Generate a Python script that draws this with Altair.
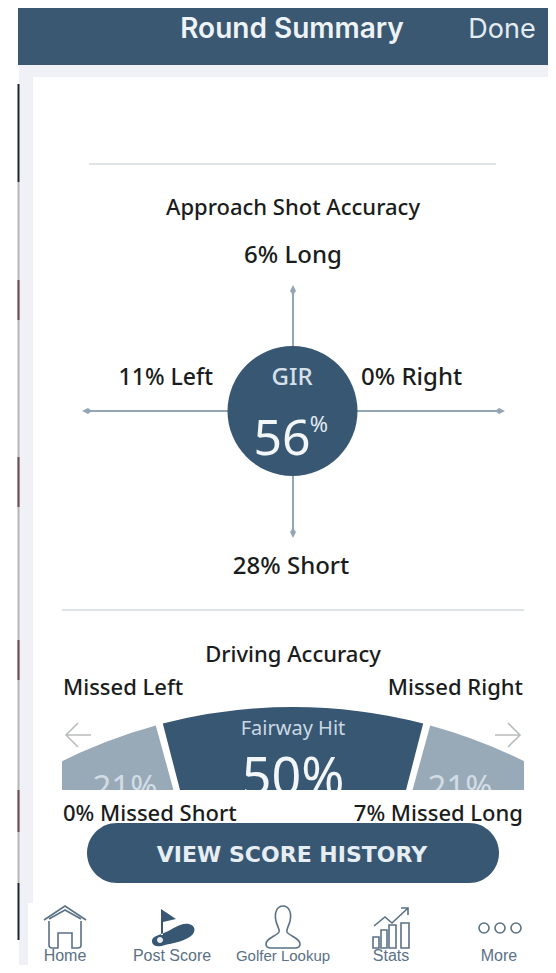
import math
import altair as alt
import pandas as pd

# ---- values ----
gir_pct = 56
miss_labels = ["6% Long", "11% Left", "0% Right", "28% Short"]
driving_segments = ["Missed Left", "Fairway Hit", "Missed Right"]
driving_values = [21, 50, 21]
driving_other = ["0% Missed Short", "7% Missed Long"]
tab_labels = ["Home", "Post Score", "Golfer Lookup", "Stats", "More"]

# ---- layout: the chart uses page pixels as its data space ----
W, H = 540, 957
sx = alt.Scale(domain=[8, 548], nice=False, zero=False)
sy = alt.Scale(domain=[8, 965], nice=False, zero=False, reverse=True)
X = lambda f="x": alt.X(f"{f}:Q", scale=sx, axis=None)
Y = lambda f="y": alt.Y(f"{f}:Q", scale=sy, axis=None)

NAVY = "#375773"
HEAD = "#3b5873"
LINE = "#93a6b6"
GREYSEG = "#98a9b7"
INK = "#1a1d20"
TAB = "#5a7186"
BODY = "Noto Sans"


def rects(rows, color, **kw):
    df = pd.DataFrame(rows, columns=["x", "x2", "y", "y2"])
    return alt.Chart(df).mark_rect(color=color, **kw).encode(
        x=X(), x2="x2:Q", y=Y(), y2="y2:Q")


def rules(rows, color, width):
    df = pd.DataFrame(rows, columns=["x", "x2", "y", "y2"])
    return alt.Chart(df).mark_rule(color=color, strokeWidth=width).encode(
        x=X(), x2="x2:Q", y=Y(), y2="y2:Q")


def texts(rows, size, color=INK, weight=400, align="center", font=BODY):
    df = pd.DataFrame(rows, columns=["t", "x", "y"])
    return alt.Chart(df).mark_text(
        fontSize=size, color=color, fontWeight=weight, align=align,
        baseline="alphabetic", font=font).encode(x=X(), y=Y(), text="t:N")


def glyphs(rows, fill=None, stroke=None, width=1.6):
    # size=4 makes the path's units equal to pixels
    df = pd.DataFrame(rows, columns=["p", "x", "y"])
    kw = {"fill": fill or "transparent", "filled": True, "opacity": 1}
    if stroke:
        kw.update(stroke=stroke, strokeWidth=width)
    return alt.Chart(df).mark_point(size=4, **kw).encode(
        x=X(), y=Y(), shape=alt.Shape("p:N", scale=None, legend=None))


# ---- driving accuracy sectors ----
CX, CY, R, R0 = 293, 1227, 520, 425
sector_spans = [(-29.5, -15.3), (-14.5, 14.5), (15.3, 29.5)]
sector_colors = [GREYSEG, NAVY, GREYSEG]
sectors = []
for (a, b), c in zip(sector_spans, sector_colors):
    df = pd.DataFrame({"x": [CX], "y": [CY], "t0": [math.radians(a)], "t1": [math.radians(b)]})
    sectors.append(
        alt.Chart(df).mark_arc(radius=R, radius2=R0, color=c).encode(
            x=X(), y=Y(),
            theta=alt.Theta("t0:Q", scale=None),
            theta2="t1:Q"))

# ---- icon paths ----
HOME = ("M-21,-7 L0,-21 L21,-7 M-16,-8 L0,-17 L16,-8 M-16,-6 L-16,18 Q-16,21 -13,21 L-7,21 L-7,6 "
        "L7,6 L7,21 L13,21 Q16,21 16,18 L16,-6")
FLAG = ("M-12,-18 L-12,8 L-10,8 L-10,-5 L3,-8 L-12,-18 Z "
        "M-21,15 C-22,9 -13,8 -7,5 C0,2 8,-5 16,-3 C24,-1 23,7 15,11 "
        "C8,15 0,16 -8,18 C-14,20 -20,20 -21,15 Z")
PERSON = ("M-7,-6 C-9,-14 -6,-21 0,-21 C6,-21 9,-14 7,-6 C6,-1 3,2 4,5 C6,9 17,11 17,17 "
          "C17,20 15,21 12,21 L-12,21 C-15,21 -17,20 -17,17 C-17,11 -6,9 -4,5 C-3,2 -6,-1 -7,-6 Z")
STATS = ("M-18,21 L-18,10 L-12,10 L-12,21 Z M-10,21 L-10,3 L-4,3 L-4,21 Z "
         "M-2,21 L-2,-2 L5,-2 L5,21 Z M10,21 L10,-4 L18,-4 L18,21 Z "
         "M-17,-1 L-6,-10 L1,-4 L17,-19 M10,-19 L17,-19 L17,-12")
RING = "M-5,0 A5,5 0 1,0 5,0 A5,5 0 1,0 -5,0 Z"
HOLE = "M-3,0 A3,3 0 1,0 3,0 A3,3 0 1,0 -3,0 Z"
TIP_U = "M0,-6 L3,0 L0,4 L-3,0 Z"
TIP_D = "M0,6 L3,0 L0,-4 L-3,0 Z"
TIP_L = "M-6,0 L0,-3 L4,0 L0,3 Z"
TIP_R = "M6,0 L0,-3 L-4,0 L0,3 Z"
ARROW_L = "M12,-12 L0,0 L12,12 M0,0 L25,0"
ARROW_R = "M-12,-12 L0,0 L-12,12 M0,0 L-25,0"

layers = [
    # page furniture
    rects([(19, 33, 65, 903), (19, 28, 903, 973), (33, 548, 65, 77)], "#f0f1f7"),
    rects([(18, 548, 8, 65)], HEAD),
    rules([(18.5, 18.5, 182, 883)], "#b8b6b4", 2),
    rules([(18.5, 18.5, 84, 182), (18.5, 18.5, 883, 940)], "#1c2530", 2),
    rules([(18.5, 18.5, 280, 320), (18.5, 18.5, 457, 507), (18.5, 18.5, 640, 680), (18.5, 18.5, 790, 832)], "#6d4f4a", 2),
    texts([("Round Summary", 292, 38)], 28, "#eef3f7", 600, font="Inter"),
    texts([("Done", 502, 38)], 27, "#e4ebf1", 400, font="Inter"),
    # approach section
    rules([(89, 496, 164, 164), (62, 524, 610, 610)], "#d5dade", 1.5),
    texts([("Approach Shot Accuracy", 293, 215)], 22, weight=500),
    texts([(miss_labels[0], 293, 263), (miss_labels[3], 291, 574)], 24, weight=500),
    texts([(miss_labels[1], 213, 385)], 23, weight=500, align="right"),
    texts([(miss_labels[2], 361, 385)], 24, weight=500, align="left"),
    rules([(293, 293, 287, 536), (84, 503, 411, 411)], LINE, 2),
    glyphs([(TIP_U, 293, 291), (TIP_D, 293, 532), (TIP_L, 88, 411), (TIP_R, 499, 411)], fill=LINE),
    alt.Chart(pd.DataFrame({"x": [292.5], "y": [411]})).mark_point(
        filled=True, color=NAVY, opacity=1, size=16900, shape="circle").encode(x=X(), y=Y()),
    texts([("GIR", 292, 385)], 24, "#d6e0e9", 500),
    texts([(str(gir_pct), 282, 455)], 50, "#f2f6f9", 400),
    texts([("%", 319, 432)], 22, "#e4ebf1", 400),
    # driving section
    texts([("Driving Accuracy", 293, 662)], 22, weight=500),
    texts([(driving_segments[0], 63, 695)], 22, weight=500, align="left"),
    texts([(driving_segments[2], 523, 695)], 22, weight=500, align="right"),
    *sectors,
    texts([(driving_segments[1], 293, 735)], 20, "#cbd8e3", 400),
    texts([(f"{driving_values[1]}%", 293, 795)], 52, "#f2f6f9", 400),
    texts([(f"{driving_values[0]}%", 125, 799), (f"{driving_values[2]}%", 460, 799)], 33, "#d2dce4", 400),
    # masks trimming the sectors to the flat-bottomed shape
    rects([(33, 62, 730, 800), (524, 548, 730, 800), (33, 548, 790, 900)], "#ffffff"),
    glyphs([(ARROW_L, 66, 735)], stroke="#b9bcbd"),
    glyphs([(ARROW_R, 520, 735)], stroke="#b9bcbd"),
    texts([(driving_other[0], 63, 821)], 22, weight=500, align="left"),
    texts([(driving_other[1], 523, 821)], 22, weight=500, align="right"),
    # button
    rects([(87, 499, 823, 883)], NAVY, cornerRadius=30),
    texts([("VIEW SCORE HISTORY", 292, 862)], 22, "#e6edf3", 700, font="DejaVu Sans"),
    # tab bar
    glyphs([(HOME, 65, 927), (PERSON, 283, 927), (STATS, 391, 927),
            (RING, 484, 928), (RING, 500, 928), (RING, 516, 928)], stroke=TAB),
    glyphs([(FLAG, 173, 927)], fill=NAVY),
    glyphs([(HOLE, 160, 940)], fill="#e8edf2"),
    texts([(tab_labels[0], 65, 961), (tab_labels[1], 172, 961), (tab_labels[3], 391, 961), (tab_labels[4], 499, 961)],
          16, TAB, 400, font="Liberation Sans"),
    texts([(tab_labels[2], 283, 961)], 15, TAB, 400, font="Liberation Sans"),
]

chart = alt.layer(*layers).properties(
    width=W, height=H, padding=0, background="#ffffff",
    autosize=alt.AutoSizeParams(type="none")
).configure_view(stroke=None)

chart.save("out.html", embed_options={"renderer": "svg", "actions": False})
